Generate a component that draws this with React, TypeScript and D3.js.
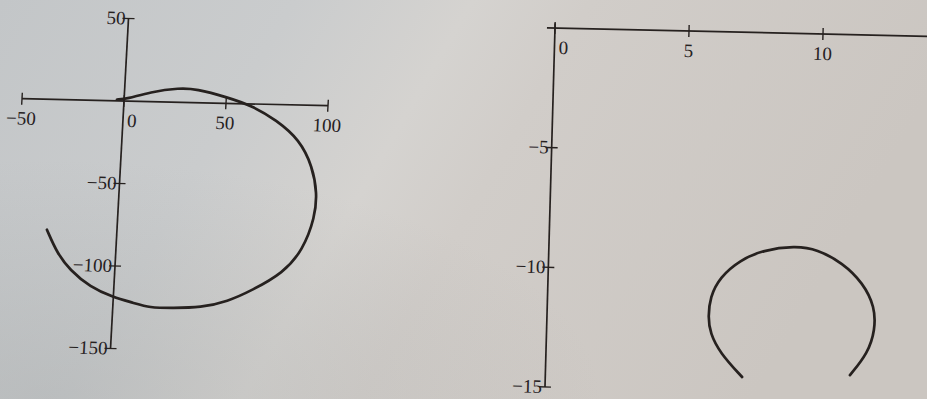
import React from "react";
import * as d3 from "d3";

// Left plot: open spiral-like trace
const leftX = [-3.5, 1.4, 12.5, 27, 35, 50, 63, 75, 87, 94, 97, 96.6, 91.6, 82.4, 68, 56, 43, 29.5, 18, 10, 0, -11.7, -22, -28.7, -34.3];
const leftY = [0.8, 1.3, 5.8, 8.7, 8.3, 3.9, -1.2, -9.4, -21, -37, -53, -67.6, -87.7, -102, -112.6, -120, -124, -124.6, -124.8, -122, -119, -113, -103, -93, -79];
const leftXTicks = [-50, 0, 50, 100];
const leftYTicks = [50, -50, -100, -150];

// Right plot: open ring
const rightX = [7.34, 6.49, 6.1, 6.01, 6.06, 6.41, 7.14, 7.99, 9.18, 10.0, 10.98, 11.75, 12.22, 12.25, 12.01, 11.36];
const rightY = [-14.4, -13.42, -12.59, -11.93, -11.09, -10.25, -9.52, -9.08, -8.88, -8.99, -9.55, -10.36, -11.35, -12.31, -13.28, -14.22];
const rightXTicks = [0, 5, 10];
const rightYTicks = [-5, -10, -15];

const INK = "#26211f";
const FONT = "'Liberation Serif', 'DejaVu Serif', serif";

function fmt(v: number) {
  return v < 0 ? "\u2212" + Math.abs(v) : String(v);
}

type PanelProps = {
  xs: number[];
  ys: number[];
  xAxisEnd: [number, number];
  yAxisEnd: [number, number];
  pxPerX: number;
  pxPerY: number;
  xTicks: number[];
  yTicks: number[];
  transform: string;
  zeroLabelShift: number;
};

function Panel(p: PanelProps) {
  const sx = d3.scaleLinear().domain([0, 1]).range([0, p.pxPerX]);
  const sy = d3.scaleLinear().domain([0, 1]).range([0, -p.pxPerY]);
  const pts: [number, number][] = p.xs.map((x, i) => [x, p.ys[i]]);
  const line = d3
    .line<[number, number]>()
    .x((d) => sx(d[0]))
    .y((d) => sy(d[1]))
    .curve(d3.curveBasis);
  const tk = 6;
  return (
    <g transform={p.transform}>
      <line x1={sx(p.xAxisEnd[0])} x2={sx(p.xAxisEnd[1])} y1={0} y2={0} stroke={INK} strokeWidth={1.7} />
      <line x1={0} x2={0} y1={sy(p.yAxisEnd[0])} y2={sy(p.yAxisEnd[1])} stroke={INK} strokeWidth={1.7} />
      {p.xTicks.map((t) => (
        <g key={"xt" + t}>
          <line x1={sx(t)} x2={sx(t)} y1={-tk} y2={tk} stroke={INK} strokeWidth={1.4} />
          <text
            x={sx(t) + (t === 0 ? p.zeroLabelShift : 0)}
            y={26}
            textAnchor="middle"
            fontFamily={FONT}
            fontSize={19}
            fill={INK}
          >
            {fmt(t)}
          </text>
        </g>
      ))}
      {p.yTicks.map((t) => (
        <g key={"yt" + t}>
          <line x1={-tk} x2={tk} y1={sy(t)} y2={sy(t)} stroke={INK} strokeWidth={1.4} />
          <text x={-3} y={sy(t) + 6} textAnchor="end" fontFamily={FONT} fontSize={19} fill={INK}>
            {fmt(t)}
          </text>
        </g>
      ))}
      <path d={line(pts) || ""} fill="none" stroke={INK} strokeWidth={2.7} strokeLinecap="round" strokeLinejoin="round" />
    </g>
  );
}

export default function App() {
  return (
    <div style={{ position: "fixed", left: 0, top: 0 }}>
      <svg width={927} height={399} viewBox="0 0 927 399" style={{ display: "block" }}>
        <defs>
          <linearGradient id="paper" x1="0" y1="0" x2="1" y2="0.25">
            <stop offset="0" stopColor="#c3c6c8" />
            <stop offset="0.3" stopColor="#cacccd" />
            <stop offset="0.48" stopColor="#d5d3d0" />
            <stop offset="0.6" stopColor="#d1cdc9" />
            <stop offset="1" stopColor="#cbc6c1" />
          </linearGradient>
          <radialGradient id="shade" cx="0.05" cy="1" r="0.6">
            <stop offset="0" stopColor="#9ea2a3" stopOpacity="0.35" />
            <stop offset="1" stopColor="#9ea2a3" stopOpacity="0" />
          </radialGradient>
        </defs>
        <rect width={927} height={399} fill="url(#paper)" />
        <rect width={927} height={399} fill="url(#shade)" />
        <Panel
          xs={leftX}
          ys={leftY}
          xAxisEnd={[-50, 100]}
          yAxisEnd={[50, -150]}
          pxPerX={2.04}
          pxPerY={1.65}
          xTicks={leftXTicks}
          yTicks={leftYTicks}
          transform="matrix(1,0.023,-0.0545,1,124,101)"
          zeroLabelShift={9}
        />
        <Panel
          xs={rightX}
          ys={rightY}
          xAxisEnd={[-0.3, 16]}
          yAxisEnd={[0.2, -15]}
          pxPerX={26.8}
          pxPerY={23.93}
          xTicks={rightXTicks}
          yTicks={rightYTicks}
          transform="matrix(1,0.0224,-0.0279,1,555,28)"
          zeroLabelShift={9}
        />
      </svg>
    </div>
  );
}
